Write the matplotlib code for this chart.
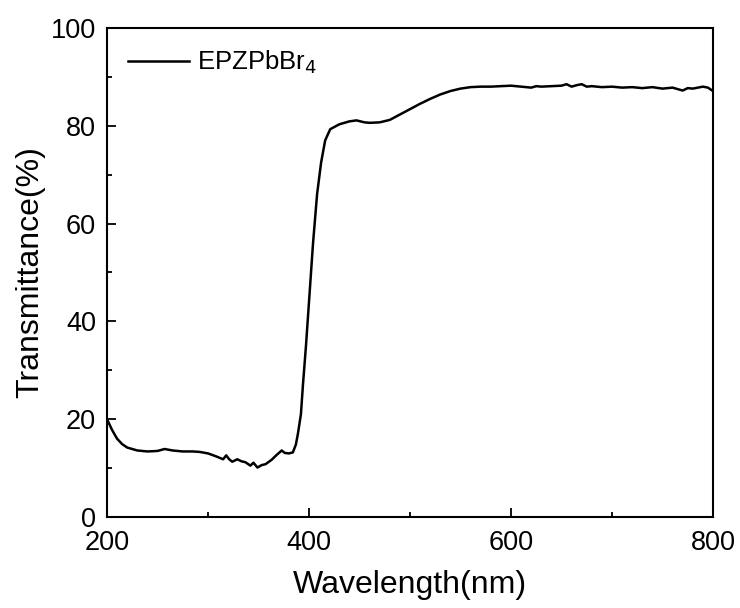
import matplotlib.pyplot as plt
from matplotlib.ticker import MultipleLocator

plt.rcParams['font.family'] = ['Liberation Sans', 'DejaVu Sans']

# transmittance spectrum
wavelength = [200, 205, 210, 215, 220, 230, 240, 250, 257, 265, 275, 285, 292, 300,
              308, 315, 318, 321, 324, 329, 333, 337, 342, 345, 349, 353, 357, 363,
              368, 373, 376, 380, 384, 387, 389, 392, 394, 397, 400, 404, 408, 412,
              416, 421, 430, 440, 447, 455, 460, 470, 480, 490, 500, 510, 520, 530,
              540, 550, 560, 570, 580, 590, 600, 610, 620, 625, 630, 640, 650, 655,
              660, 665, 670, 675, 680, 690, 700, 710, 720, 730, 740, 750, 760, 765,
              770, 775, 780, 790, 795, 800]
transmittance = [20.0, 17.8, 16.0, 14.9, 14.2, 13.6, 13.4, 13.5, 13.9, 13.6, 13.4, 13.4, 13.3, 13.0,
                 12.4, 11.8, 12.6, 11.8, 11.3, 11.8, 11.4, 11.2, 10.5, 11.1, 10.1, 10.6, 10.8, 11.7,
                 12.7, 13.6, 13.1, 13.0, 13.2, 14.8, 17.0, 21.0, 27.0, 35.0, 44.0, 56.0, 66.0, 72.5,
                 77.0, 79.3, 80.3, 80.9, 81.1, 80.7, 80.6, 80.7, 81.2, 82.3, 83.4, 84.5, 85.5, 86.4,
                 87.1, 87.6, 87.9, 88.0, 88.0, 88.1, 88.2, 88.0, 87.8, 88.1, 88.0, 88.1, 88.2, 88.5,
                 88.0, 88.3, 88.5, 88.0, 88.1, 87.9, 88.0, 87.8, 87.9, 87.7, 87.9, 87.6, 87.8, 87.5,
                 87.2, 87.7, 87.6, 88.0, 87.8, 87.1]

fig = plt.figure(figsize=(7.4, 6.08), dpi=100)
ax = fig.add_axes([0.1446, 0.1497, 0.8189, 0.8043])

ax.plot(wavelength, transmittance, color='black', linewidth=1.8, label='EPZPbBr$_4$')

ax.set_xlim(200, 800)
ax.set_ylim(0, 100)
ax.xaxis.set_major_locator(MultipleLocator(200))
ax.xaxis.set_minor_locator(MultipleLocator(100))
ax.yaxis.set_major_locator(MultipleLocator(20))
ax.yaxis.set_minor_locator(MultipleLocator(10))
ax.tick_params(which='major', direction='in', length=6.5, width=1.3, labelsize=19.5)
ax.tick_params(axis='x', which='major', pad=9.5)
ax.tick_params(axis='y', which='major', pad=8)
ax.tick_params(which='minor', direction='in', length=3.3, width=1.3)
for s in ax.spines.values():
    s.set_linewidth(1.5)

ax.set_xlabel('Wavelength(nm)', fontsize=23, labelpad=10)
ax.set_ylabel('Transmittance(%)', fontsize=23, labelpad=4)

ax.legend(loc='upper left', frameon=False, fontsize=18.5, handlelength=2.4,
          handletextpad=0.3, bbox_to_anchor=(0.0, 1.0), borderaxespad=0.4)

fig.savefig('out.png', dpi=100)
